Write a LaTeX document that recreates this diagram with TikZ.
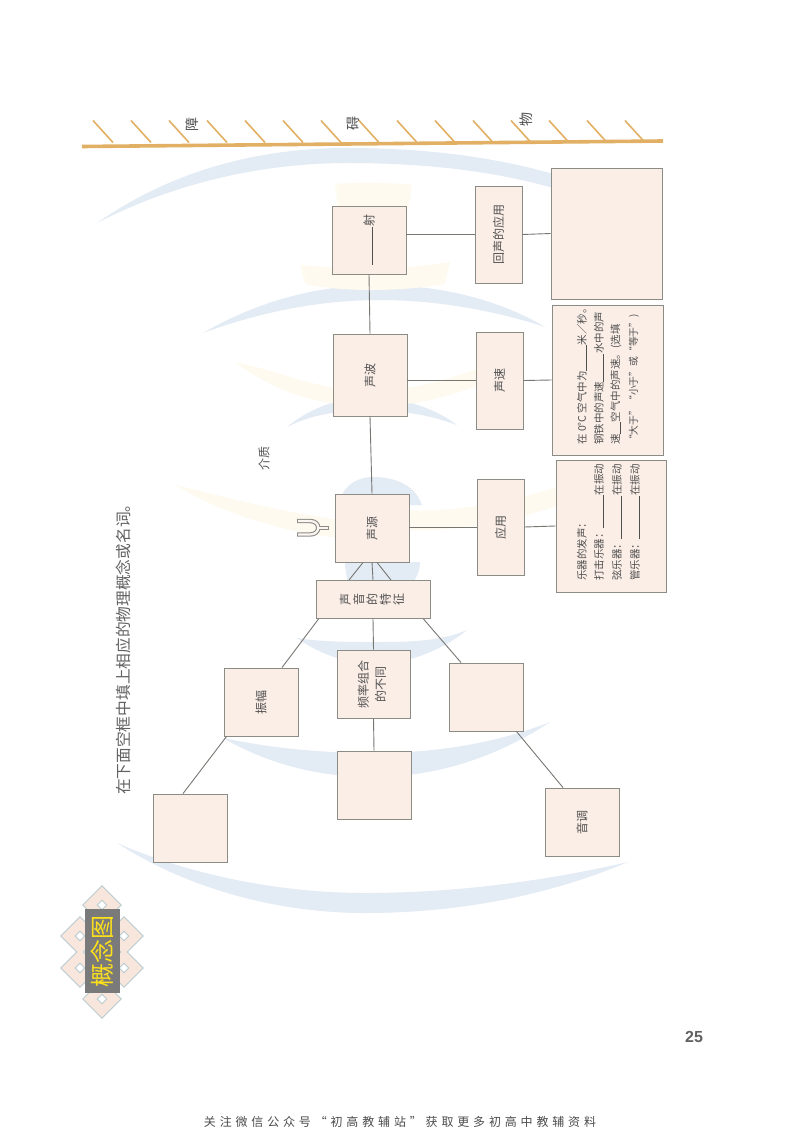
\documentclass[tikz,border=0pt]{standalone}
\usepackage{fontspec}
\setmainfont{Noto Sans CJK SC}
\newfontfamily\spacedcjk[LetterSpace=32]{Noto Sans CJK SC}
\newfontfamily\numfont{Liberation Sans}
\usetikzlibrary{calc}
\definecolor{boxfill}{HTML}{FBEEE7}
\definecolor{boxline}{HTML}{8C8C86}
\definecolor{ink}{HTML}{505050}
\definecolor{arcb}{HTML}{E3EBF5}
\definecolor{arcy}{HTML}{FEFAEF}
\definecolor{wall}{HTML}{E2B065}
\definecolor{knotline}{HTML}{B9CBD0}
\definecolor{knotfill}{HTML}{F8E6DC}
\pgfdeclarehorizontalshading{arcshade}{100bp}{color(0bp)=(white); color(25bp)=(arcb); color(85bp)=(arcb); color(100bp)=(white)}
\pgfdeclarehorizontalshading{beamshade}{100bp}{color(0bp)=(white); color(30bp)=(arcy); color(75bp)=(arcy); color(100bp)=(white)}
\newcommand\blk[1]{\rule[-1pt]{#1}{0.5pt}}
\newcommand\rot[1]{\rotatebox{90}{#1}}
\tikzset{
  box/.style={draw=boxline,fill=boxfill,line width=0.9pt,inner sep=0pt,text=ink,font=\fontsize{12}{14}\selectfont},
  conn/.style={draw=boxline!85!black,line width=0.9pt},
  para/.style={rotate=90,anchor=west,inner sep=0pt,text=ink,font=\fontsize{10.5}{12}\selectfont},
  wavea/.style={shading=arcshade,draw=none},
  beam/.style={shading=beamshade,draw=none},
  free/.style={rotate=90,inner sep=0pt,text=ink,font=\fontsize{12}{14}\selectfont},
  wallword/.style={rotate=90,inner sep=0pt,text=ink,font=\fontsize{14}{16}\selectfont},
  hatch/.style={draw=wall,line width=1.6pt},
  knotout/.style={draw=knotline,line width=11pt,line join=miter},
  knotin/.style={draw=knotfill,line width=9pt,line join=miter}
}
\begin{document}
\begin{tikzpicture}[x=1pt,y=-1pt]
\useasboundingbox (0,0) rectangle (800,1131);
\fill[white] (0,0) rectangle (800,1131);

% faint sound waves
\shade[wavea] (97,223) .. controls (180,165) and (270,148) .. (347,148) .. controls (430,148) and (500,158) .. (560,176) -- (560,190) .. controls (500,172) and (430,163) .. (347,163) .. controls (270,163) and (180,180) .. cycle;
\shade[wavea] (203,333) .. controls (260,300) and (320,285) .. (380,285) .. controls (440,285) and (500,300) .. (545,327) .. controls (500,312) and (440,300) .. (380,300) .. controls (320,300) and (260,312) .. cycle;
\shade[wavea] (287,427) .. controls (310,408) and (340,397) .. (370,397) .. controls (400,397) and (435,408) .. (457,425) .. controls (430,415) and (400,410) .. (370,410) .. controls (340,410) and (310,415) .. cycle;
\fill[arcb] (340,500) .. controls (345,483) and (360,477) .. (373,477) .. controls (395,477) and (415,485) .. (422,505) -- (340,505) -- cycle;
\fill[arcb] (345,562) -- (420,562) .. controls (420,575) and (412,585) .. (405,590) -- (350,590) .. controls (347,580) and (345,570) .. cycle;
\shade[wavea] (297,638) .. controls (320,655) and (350,664) .. (375,664) .. controls (405,664) and (440,652) .. (467,630) .. controls (440,642) and (405,642) .. (375,642) .. controls (350,642) and (320,642) .. cycle;
\shade[wavea] (223,738) .. controls (270,765) and (320,777) .. (373,777) .. controls (440,777) and (500,755) .. (550,722) .. controls (500,742) and (440,753) .. (373,753) .. controls (320,753) and (270,748) .. cycle;
\shade[wavea] (117,843) .. controls (190,890) and (280,913) .. (365,913) .. controls (460,913) and (550,895) .. (628,862) .. controls (550,880) and (460,893) .. (365,893) .. controls (280,893) and (190,875) .. cycle;
% faint yellow beams
\shade[beam] (335,184) .. controls (360,182) and (385,182) .. (412,185) -- (408,210) -- (338,210) -- cycle;
\shade[beam] (300,265) .. controls (350,270) and (400,270) .. (450,262) -- (445,284) .. controls (400,292) and (340,292) .. (305,284) -- cycle;
\shade[beam] (235,362) .. controls (280,372) and (300,382) .. (335,388) -- (335,404) .. controls (300,398) and (270,388) .. cycle;
\shade[beam] (405,388) .. controls (430,385) and (450,378) .. (480,368) -- (480,385) .. controls (450,395) and (430,402) .. (405,404) -- cycle;
\shade[beam] (175,485) .. controls (230,498) and (280,512) .. (340,520) -- (340,538) .. controls (280,532) and (220,512) .. cycle;
\shade[beam] (405,510) .. controls (450,513) and (510,503) .. (560,486) -- (560,505) .. controls (510,522) and (450,532) .. (405,530) -- cycle;

% obstacle wall
\draw[wall,line width=3.6pt] (82,146.5) -- (663,141);
\foreach \hx in {93,131,169,207,245,283,321,359,397,435,473,511,549,587,625}
  \draw[hatch] (\hx,120.5) -- ({\hx+20},142.5);
\node[wallword] (zhang) at (192,125) {障};
\node[wallword] (ai) at (353,124) {碍};
\node[wallword] (wu) at (526,120) {物};

% boxes
\node[box,minimum width=74pt,minimum height=68pt] (she) at (369,240) {\rot{\rule[1pt]{38pt}{0.5pt}射}};
\node[box,minimum width=47pt,minimum height=97pt] (huisheng) at (498.5,234.5) {\rot{回声的应用}};
\node[box,minimum width=111pt,minimum height=131pt] (big) at (606.5,233.5) {};
\node[box,minimum width=74pt,minimum height=82pt] (shengbo) at (370,375) {\rot{声波}};
\node[box,minimum width=47pt,minimum height=97pt] (shengsu) at (499.5,380.5) {\rot{声速}};
\node[box,minimum width=111pt,minimum height=150pt] (speedbox) at (607.5,380) {};
\node[box,minimum width=74pt,minimum height=68pt] (yuan) at (372,528) {\rot{声源}};
\node[box,minimum width=47pt,minimum height=96pt] (yingyong) at (500.5,527) {\rot{应用}};
\node[box,minimum width=110pt,minimum height=132pt] (yueqi) at (611,526) {};
\node[box,minimum width=114pt,minimum height=38pt,font=\fontsize{12}{10.5}\selectfont] (tezheng) at (373,599.5) {\rot{\begin{tabular}{@{}c@{}}声\\音\\的\\特\\征\end{tabular}}};
\node[box,minimum width=74pt,minimum height=68pt] (zhenfu) at (261,702) {\rot{振幅}};
\node[box,minimum width=73pt,minimum height=68pt] (pinlv) at (373.5,684) {\rot{\begin{tabular}{@{}c@{}}频率组合\\[3pt]的不同\end{tabular}}};
\node[box,minimum width=74pt,minimum height=68pt] (empa) at (486,697) {};
\node[box,minimum width=74pt,minimum height=68pt] (empb) at (374,785) {};
\node[box,minimum width=74pt,minimum height=68pt] (empc) at (190,828) {};
\node[box,minimum width=74pt,minimum height=68pt] (yindiao) at (582,822) {\rot{音调}};

% paragraph lines in the boxes
\node[para] (s1) at (582,445) {在 0°C 空气中为\blk{26pt}米／秒。};
\node[para] (s2) at (599,445) {钢铁中的声速\blk{28pt}水中的声};
\node[para] (s3) at (616,445) {速\blk{12pt}空气中的声速。(选填};
\node[para,font=\fontsize{9.8}{12}\selectfont] (s4) at (634,445) {“大于”“小于”或“等于”)};
\node[para] (y1) at (582,581) {乐器的发声：};
\node[para] (y2) at (599,581) {打击乐器：\blk{33pt}在振动};
\node[para] (y3) at (617,581) {弦乐器：\blk{43pt}在振动};
\node[para] (y4) at (635,581) {管乐器：\blk{43pt}在振动};

% connectors
\draw[conn] (she.south) -- (shengbo.north);
\draw[conn] (shengbo.south) -- (yuan.north);
\draw[conn] (she.east |- huisheng.west) -- (huisheng.west);
\draw[conn] (huisheng.east) -- (big.west);
\draw[conn] (shengbo.east |- shengsu.west) -- (shengsu.west);
\draw[conn] (shengsu.east) -- (speedbox.west);
\draw[conn] (yuan.east |- yingyong.west) -- (yingyong.west);
\draw[conn] (yingyong.east) -- (yueqi.west);
\draw[conn] (yuan.south) -- (tezheng.north);
\draw[conn] ($(yuan.south)+(-9,0)$) -- ($(tezheng.north)+(-24,0)$);
\draw[conn] ($(yuan.south)+(5,0)$) -- ($(tezheng.north)+(18,0)$);
\draw[conn] (tezheng.south west)++(3,0) -- ($(zhenfu.north)+(21,0)$);
\draw[conn] (tezheng.south) -- (pinlv.north);
\draw[conn] ($(tezheng.south east)+(-7,0)$) -- ($(empa.north)+(-25,0)$);
\draw[conn] (zhenfu.south west)++(3,0) -- ($(empc.north)+(-7,0)$);
\draw[conn] (pinlv.south) -- (empb.north);
\draw[conn] ($(empa.south east)+(-7,0)$) -- ($(yindiao.north)+(-19,0)$);

% tuning fork
\draw[draw=boxline,line width=4.4pt,line join=round] (297,521) -- (310,521) .. controls (321,521) and (321,534.5) .. (310,534.5) -- (297,534.5);
\draw[draw=boxline,line width=4.4pt] (317,527.8) -- (329,527.8);
\draw[draw=boxfill!60!white,line width=2.2pt] (298,521) -- (310,521) .. controls (321,521) and (321,534.5) .. (310,534.5) -- (298,534.5);
\draw[draw=boxfill!60!white,line width=2.2pt] (317,527.8) -- (328,527.8);

% free text
\node[free] (jiezhi) at (264,458) {介质};
\node[rotate=90,anchor=west,inner sep=0pt,text=black!62,font=\fontsize{15.7}{18}\selectfont] (title) at (123,795) {在下面空框中填上相应的物理概念或名词。};

% knot emblem
\foreach \kx/\ky in {102/905,102/999,80/936,80/968,124/936,124/968}{
  \draw[knotout] (\kx,\ky-12) -- (\kx+12,\ky) -- (\kx,\ky+12) -- (\kx-12,\ky) -- cycle;
}
\foreach \kx/\ky in {102/905,102/999,80/936,80/968,124/936,124/968}{
  \draw[knotin] (\kx,\ky-12) -- (\kx+12,\ky) -- (\kx,\ky+12) -- (\kx-12,\ky) -- cycle;
}
\fill[black!52] (85,909) rectangle (120,993);
\node[rotate=90,inner sep=0pt,text=yellow!80!orange!90!white,font=\fontsize{24}{26}\selectfont] (gainian) at (102.5,951) {概念图};

% page furniture
\node[inner sep=0pt,text=black!62,font=\numfont\bfseries\fontsize{16}{18}\selectfont] (pageno) at (694,1037) {25};
\node[inner sep=0pt,text=black!70,font=\spacedcjk\fontsize{12}{14}\selectfont] (footer) at (400,1122) {关注微信公众号“初高教辅站”获取更多初高中教辅资料};
\end{tikzpicture}
\end{document}
